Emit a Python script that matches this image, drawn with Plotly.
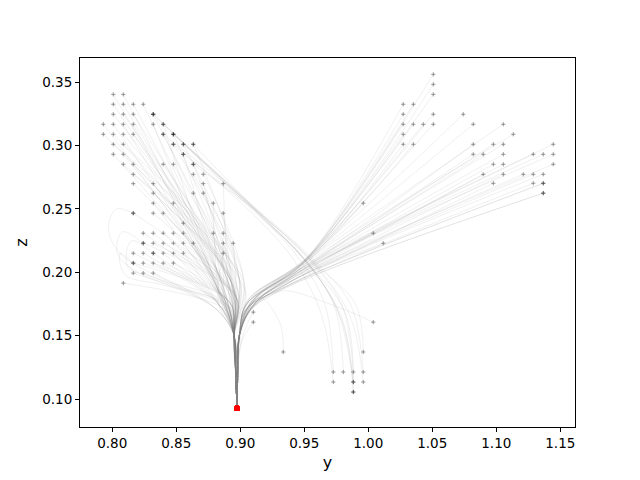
import plotly.graph_objects as go

## where every trajectory ends (red)
end_y = 0.8974
end_z = 0.0927

## left cluster: one z per row, the y values of the dots in that row
left_row_z = [0.3405, 0.3327, 0.3248, 0.3169, 0.3090, 0.3011, 0.2932, 0.2853,
              0.2774, 0.2700, 0.2625, 0.2546, 0.2467, 0.2388, 0.2309, 0.2230,
              0.2151, 0.2073, 0.1994, 0.1915]
left_row_y = [
    [0.8008, 0.8086],
    [0.8008, 0.8086, 0.8164, 0.8242],
    [0.8008, 0.8086, 0.8164, 0.8320],
    [0.7930, 0.8008, 0.8086, 0.8164, 0.8320, 0.8398],
    [0.7930, 0.8008, 0.8086, 0.8164, 0.8398, 0.8477],
    [0.8008, 0.8086, 0.8477, 0.8555, 0.8633],
    [0.8008, 0.8086, 0.8555],
    [0.8086, 0.8164, 0.8398, 0.8477, 0.8633],
    [0.8164, 0.8633, 0.8711],
    [0.8164, 0.8320, 0.8711, 0.8867],
    [0.8320, 0.8633, 0.8711],
    [0.8320, 0.8477, 0.8789],
    [0.8164, 0.8320, 0.8398, 0.8867],
    [0.8555],
    [0.8242, 0.8320, 0.8398, 0.8477, 0.8555, 0.8789, 0.8867],
    [0.8242, 0.8320, 0.8398, 0.8477, 0.8555, 0.8633, 0.8867, 0.8945],
    [0.8164, 0.8242, 0.8320, 0.8398, 0.8477, 0.8555, 0.8867],
    [0.8164, 0.8242, 0.8320, 0.8398, 0.8477],
    [0.8164, 0.8242, 0.8320],
    [0.8086],
]
## where each left row's lines reach the top of the funnel
left_entry_y = [0.878, 0.884, 0.890, 0.881, 0.893, 0.899, 0.886, 0.895, 0.903, 0.891,
                0.898, 0.884, 0.894, 0.904, 0.888, 0.897, 0.883, 0.892, 0.880, 0.889]
left_entry_z = [0.200, 0.196, 0.194, 0.190, 0.192, 0.196, 0.186, 0.188, 0.192, 0.184,
                0.186, 0.180, 0.182, 0.185, 0.178, 0.180, 0.175, 0.176, 0.172, 0.170]

## right cluster, same layout
right_row_z = [0.3563, 0.3484, 0.3405, 0.3327, 0.3248, 0.3169, 0.3090, 0.3011,
               0.2932, 0.2853, 0.2774, 0.2703, 0.2625, 0.2546, 0.2309, 0.2230]
right_row_y = [
    [1.0508],
    [1.0508],
    [1.0508],
    [1.0273, 1.0352],
    [1.0273, 1.0508, 1.0742],
    [1.0273, 1.0352, 1.0430, 1.0508, 1.0820, 1.1055],
    [1.0273, 1.1133],
    [1.0273, 1.0352, 1.0820, 1.0977, 1.1055, 1.1445],
    [1.0820, 1.0898, 1.1055, 1.1289, 1.1367, 1.1445],
    [1.0977, 1.1055, 1.1445],
    [1.0898, 1.1055, 1.1211, 1.1289, 1.1367],
    [1.0977, 1.1289, 1.1367, 1.1367],
    [1.1367, 1.1367],
    [0.9961],
    [1.0039],
    [1.0117],
]
## crossing point and funnel entry for each right row
right_cross_y = [0.956, 0.955, 0.953, 0.952, 0.950, 0.949, 0.948, 0.946,
                 0.944, 0.942, 0.940, 0.938, 0.936, 0.945, 0.941, 0.939]
right_cross_z = [0.216, 0.214, 0.212, 0.211, 0.209, 0.207, 0.205, 0.202,
                 0.199, 0.196, 0.193, 0.190, 0.188, 0.203, 0.196, 0.193]
right_entry_y = [0.913, 0.910, 0.908, 0.911, 0.906, 0.909, 0.912, 0.905,
                 0.910, 0.906, 0.909, 0.904, 0.907, 0.911, 0.906, 0.905]
right_entry_z = [0.181, 0.180, 0.179, 0.178, 0.178, 0.177, 0.176, 0.175,
                 0.174, 0.172, 0.172, 0.170, 0.169, 0.178, 0.173, 0.171]

## stem of the funnel
left_stem_y = [0.8952, 0.8966]
left_stem_z = [0.150, 0.117]
right_stem_y = [0.8993, 0.8980]
right_stem_z = [0.150, 0.117]

## a few single paths with their own bends
loop_paths = [
    [(0.8164, 0.2467), (0.803, 0.250), (0.797, 0.235), (0.806, 0.215), (0.850, 0.190), (0.886, 0.175)],
    [(0.8242, 0.2230), (0.808, 0.232), (0.804, 0.215), (0.820, 0.200), (0.860, 0.185), (0.890, 0.172)],
    [(0.8320, 0.2151), (0.815, 0.225), (0.812, 0.205), (0.835, 0.195), (0.888, 0.176)],
    [(0.8164, 0.2073), (0.806, 0.215), (0.810, 0.198), (0.840, 0.190), (0.891, 0.173)],
]
mid_paths = [
    [(0.9102, 0.1686), (0.9020, 0.150)],
    [(0.9102, 0.1607), (0.9010, 0.145)],
    [(1.0039, 0.1607), (0.970, 0.175), (0.930, 0.185), (0.905, 0.165)],
    [(0.9336, 0.1371), (0.931, 0.160), (0.915, 0.180), (0.900, 0.155)],
]
band_paths = [
    [(0.8320, 0.3248), (0.915, 0.245), (0.945, 0.212), (0.966, 0.175), (0.9727, 0.1213)],
    [(0.8398, 0.3169), (0.918, 0.244), (0.948, 0.212), (0.973, 0.175), (0.9805, 0.1213)],
    [(0.8477, 0.3090), (0.920, 0.243), (0.952, 0.212), (0.979, 0.175), (0.9883, 0.1213)],
    [(0.8398, 0.3090), (0.922, 0.242), (0.956, 0.211), (0.986, 0.175), (0.9961, 0.1213)],
    [(0.8477, 0.3011), (0.914, 0.242), (0.943, 0.208), (0.964, 0.165), (0.9727, 0.1134)],
    [(0.8555, 0.3011), (0.920, 0.241), (0.952, 0.208), (0.979, 0.165), (0.9883, 0.1134)],
    [(0.8555, 0.2932), (0.923, 0.240), (0.957, 0.208), (0.986, 0.165), (0.9961, 0.1134)],
    [(0.8633, 0.3011), (0.921, 0.240), (0.954, 0.206), (0.980, 0.160), (0.9883, 0.1055)],
    [(0.8633, 0.2853), (0.925, 0.238), (0.960, 0.205), (0.990, 0.175), (0.9961, 0.1371)],
    [(0.8320, 0.3248), (0.912, 0.247), (0.947, 0.214), (0.975, 0.172), (0.9883, 0.1134)],
    [(0.8477, 0.3090), (0.917, 0.244), (0.950, 0.210), (0.982, 0.168), (0.9883, 0.1055)],
]

line_style = dict(color='rgba(128, 128, 128, 0.22)', width=0.55, shape='spline')

fig = go.Figure()
dot_y, dot_z = [], []
red_y, red_z = [], []


def add_path(ys, zs):
    fig.add_trace(go.Scatter(x=ys, y=zs, mode='lines', line=line_style,
                             hoverinfo='skip', showlegend=False))


for i, z0 in enumerate(left_row_z):
    for y0 in left_row_y[i]:
        add_path([y0, left_entry_y[i]] + left_stem_y + [end_y],
                 [z0, left_entry_z[i]] + left_stem_z + [end_z])
        dot_y.append(y0)
        dot_z.append(z0)
        red_y.append(end_y)
        red_z.append(end_z)

for i, z0 in enumerate(right_row_z):
    for y0 in right_row_y[i]:
        add_path([y0, right_cross_y[i], right_entry_y[i]] + right_stem_y + [end_y],
                 [z0, right_cross_z[i], right_entry_z[i]] + right_stem_z + [end_z])
        dot_y.append(y0)
        dot_z.append(z0)
        red_y.append(end_y)
        red_z.append(end_z)

for path in loop_paths:
    add_path([p[0] for p in path] + left_stem_y + [end_y],
             [p[1] for p in path] + left_stem_z + [end_z])
    dot_y.append(path[0][0])
    dot_z.append(path[0][1])

for path in mid_paths:
    add_path([p[0] for p in path] + [0.8975, end_y],
             [p[1] for p in path] + [0.117, end_z])
    dot_y.append(path[0][0])
    dot_z.append(path[0][1])

for path in band_paths:
    add_path([p[0] for p in path], [p[1] for p in path])
    dot_y += [path[0][0], path[-1][0]]
    dot_z += [path[0][1], path[-1][1]]

fig.add_trace(go.Scatter(
    x=dot_y, y=dot_z, mode='markers', showlegend=False,
    marker=dict(symbol='cross-thin', size=3, opacity=0.5,
                line=dict(color='black', width=0.8))
))
fig.add_trace(go.Scatter(
    x=red_y, y=red_z, mode='markers', showlegend=False,
    marker=dict(symbol='circle', size=5.5, color='red', line=dict(width=0))
))

axis_style = dict(
    showgrid=False, zeroline=False, showline=True, linecolor='black',
    linewidth=1, mirror=True, ticks='outside', ticklen=4, tickcolor='black',
    tickfont=dict(family='DejaVu Sans', size=13.5, color='black'),
    tickformat='.2f', dtick=0.05
)

# the page body adds 8px, so the margins are shifted to keep the
# axes box at 80..575 x 58..427 in the window
fig.update_layout(
    width=640, height=480,
    margin=dict(l=72, r=73, t=50, b=61),
    plot_bgcolor='white', paper_bgcolor='white',
    font=dict(family='DejaVu Sans', size=13.5, color='black'),
    xaxis=dict(axis_style, range=[0.7748, 1.1615], tick0=0.8,
               title=dict(text='y', standoff=6)),
    yaxis=dict(axis_style, range=[0.0779, 0.3692], tick0=0.1,
               title=dict(text='z', standoff=10)),
)

fig.write_html("out.html")
